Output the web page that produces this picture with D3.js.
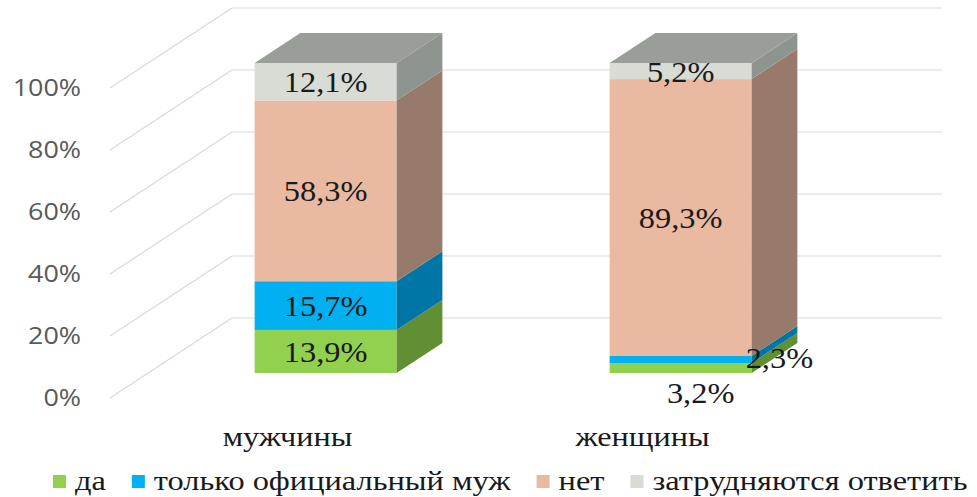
<!DOCTYPE html>
<html>
<head>
<meta charset="utf-8">
<script src="https://cdn.jsdelivr.net/npm/d3@7"></script>
<style>
  body { margin: 0; background: #fff; }
</style>
</head>
<body>
<div id="chart"></div>
<script>
// donnees
const categories = ["мужчины", "женщины"];
const seriesNames = ["да", "только официальный муж", "нет", "затрудняются ответить"];
const valuesMen = [13.9, 15.7, 58.3, 12.1];
const valuesWomen = [3.2, 2.3, 89.3, 5.2];
const yTicks = [0, 20, 40, 60, 80, 100];
const tickLabels = ["0%", "20%", "40%", "60%", "80%", "100%"];

const width = 977,
  height = 497;

// couleurs : face avant, face laterale
const frontColors = ["#92d050", "#00b0f0", "#e9b9a1", "#d9dbd5"];
const sideColors = ["#638f34", "#0076a6", "#977a6b", "#8e958f"];
const topColor = "#9a9e98";

// projection oblique pour l'effet 3D
const depthX = 122,
  depthY = -80;
const zFront = 0.3125,
  zBack = 0.6875;

// l'image d'origine est un peu etiree en largeur
const stretch = 1.17;

const x = d3
  .scaleBand()
  .domain(categories)
  .range([110, 820])
  .paddingInner(0.6)
  .paddingOuter(0.3);

const y = d3.scaleLinear().domain([0, 100]).range([398, 88]);

const svg = d3
  .select("#chart")
  .append("svg")
  .attr("width", width)
  .attr("height", height);

// texte etire horizontalement autour de son point d'ancrage
function stretchedText(sel, px, py, sx) {
  return sel
    .append("text")
    .attr("transform", "translate(" + px + "," + py + ") scale(" + sx + ",1)");
}

// murs : lignes de grille laterales et du fond
const grid = svg.append("g");
yTicks.forEach(function (t) {
  grid
    .append("line")
    .attr("x1", 110)
    .attr("y1", y(t))
    .attr("x2", 110 + depthX)
    .attr("y2", y(t) + depthY)
    .attr("stroke", "#d9d9d9")
    .attr("stroke-width", 1.2);
  grid
    .append("line")
    .attr("x1", 110 + depthX)
    .attr("y1", y(t) + depthY)
    .attr("x2", 820 + depthX)
    .attr("y2", y(t) + depthY)
    .attr("stroke", "#d9d9d9")
    .attr("stroke-width", 1.2);
});

// etiquettes de l'axe Y
const yAxis = svg.append("g");
yTicks.forEach(function (t, i) {
  stretchedText(yAxis, 81, y(t), stretch)
    .attr("dy", "0.36em")
    .attr("text-anchor", "end")
    .style("font-family", "'Open Sans', sans-serif")
    .style("font-size", "23px")
    .style("fill", "#595959")
    .text(tickLabels[i]);
});

// empiler les valeurs
const table = categories.map(function (c, i) {
  const vals = i === 0 ? valuesMen : valuesWomen;
  let acc = 0;
  return vals.map(function (v, k) {
    const seg = { cat: c, k: k, v: v, y0: acc, y1: acc + v };
    acc += v;
    return seg;
  });
});

const ox = zFront * depthX,
  oy = zFront * depthY;
const dx = (zBack - zFront) * depthX,
  dy = (zBack - zFront) * depthY;

table.forEach(function (segs) {
  const g = svg.append("g");
  segs.forEach(function (s) {
    const x0 = x(s.cat) + ox,
      x1 = x(s.cat) + x.bandwidth() + ox;
    const yb = y(s.y0) + oy,
      yt = y(s.y1) + oy;
    // face avant
    g.append("rect")
      .attr("x", x0)
      .attr("y", yt)
      .attr("width", x1 - x0)
      .attr("height", yb - yt)
      .attr("fill", frontColors[s.k]);
    // face laterale
    g.append("path")
      .attr(
        "d",
        "M" + x1 + "," + yb +
          "L" + (x1 + dx) + "," + (yb + dy) +
          "L" + (x1 + dx) + "," + (yt + dy) +
          "L" + x1 + "," + yt + "Z"
      )
      .attr("fill", sideColors[s.k]);
  });
  // dessus
  const last = segs[segs.length - 1];
  const x0 = x(last.cat) + ox,
    x1 = x(last.cat) + x.bandwidth() + ox;
  const yt = y(last.y1) + oy;
  g.append("path")
    .attr(
      "d",
      "M" + x0 + "," + yt +
        "L" + (x0 + dx) + "," + (yt + dy) +
        "L" + (x1 + dx) + "," + (yt + dy) +
        "L" + x1 + "," + yt + "Z"
    )
    .attr("fill", topColor);
});

// etiquettes de donnees
const labelFont = "'Liberation Serif', 'Times New Roman', serif";
table.forEach(function (segs) {
  segs.forEach(function (s) {
    let lx = x(s.cat) + x.bandwidth() / 2 + ox,
      ly = (y(s.y0) + y(s.y1)) / 2 + oy;
    // petites valeurs deplacees hors de la barre (comme Excel)
    if (s.v < 3) {
      lx = x(s.cat) + x.bandwidth() + ox + dx - 18;
      ly = y(s.y1) + oy + 2;
    } else if (s.v < 4) {
      lx = x(s.cat) + x.bandwidth() / 2 + ox + 20;
      ly = y(s.y0) + oy + 19;
    }
    stretchedText(svg, lx, ly, 1.08)
      .attr("dy", "0.35em")
      .attr("text-anchor", "middle")
      .style("font-family", labelFont)
      .style("font-size", "30px")
      .style("fill", "#1a1a1a")
      .text(String(s.v).replace(".", ",") + "%");
  });
});

// categories
const xAxis = svg.append("g");
categories.forEach(function (c) {
  stretchedText(xAxis, x(c) + x.bandwidth() / 2, 446, 1.15)
    .attr("text-anchor", "middle")
    .style("font-family", labelFont)
    .style("font-size", "28px")
    .style("fill", "#1a1a1a")
    .text(c);
});

// ----------------- LEGENDE ----------------- //
const legend = svg.append("g");
let lx = 53;
seriesNames.forEach(function (name, i) {
  legend
    .append("rect")
    .attr("x", lx)
    .attr("y", 475)
    .attr("width", 13)
    .attr("height", 13)
    .attr("fill", frontColors[i]);
  const t = stretchedText(legend, lx + 22, 481, 1.2)
    .attr("dy", "0.35em")
    .style("font-family", labelFont)
    .style("font-size", "27px")
    .style("fill", "#1a1a1a")
    .text(name);
  lx += 22 + t.node().getComputedTextLength() * 1.2 + 26;
});
</script>
</body>
</html>
